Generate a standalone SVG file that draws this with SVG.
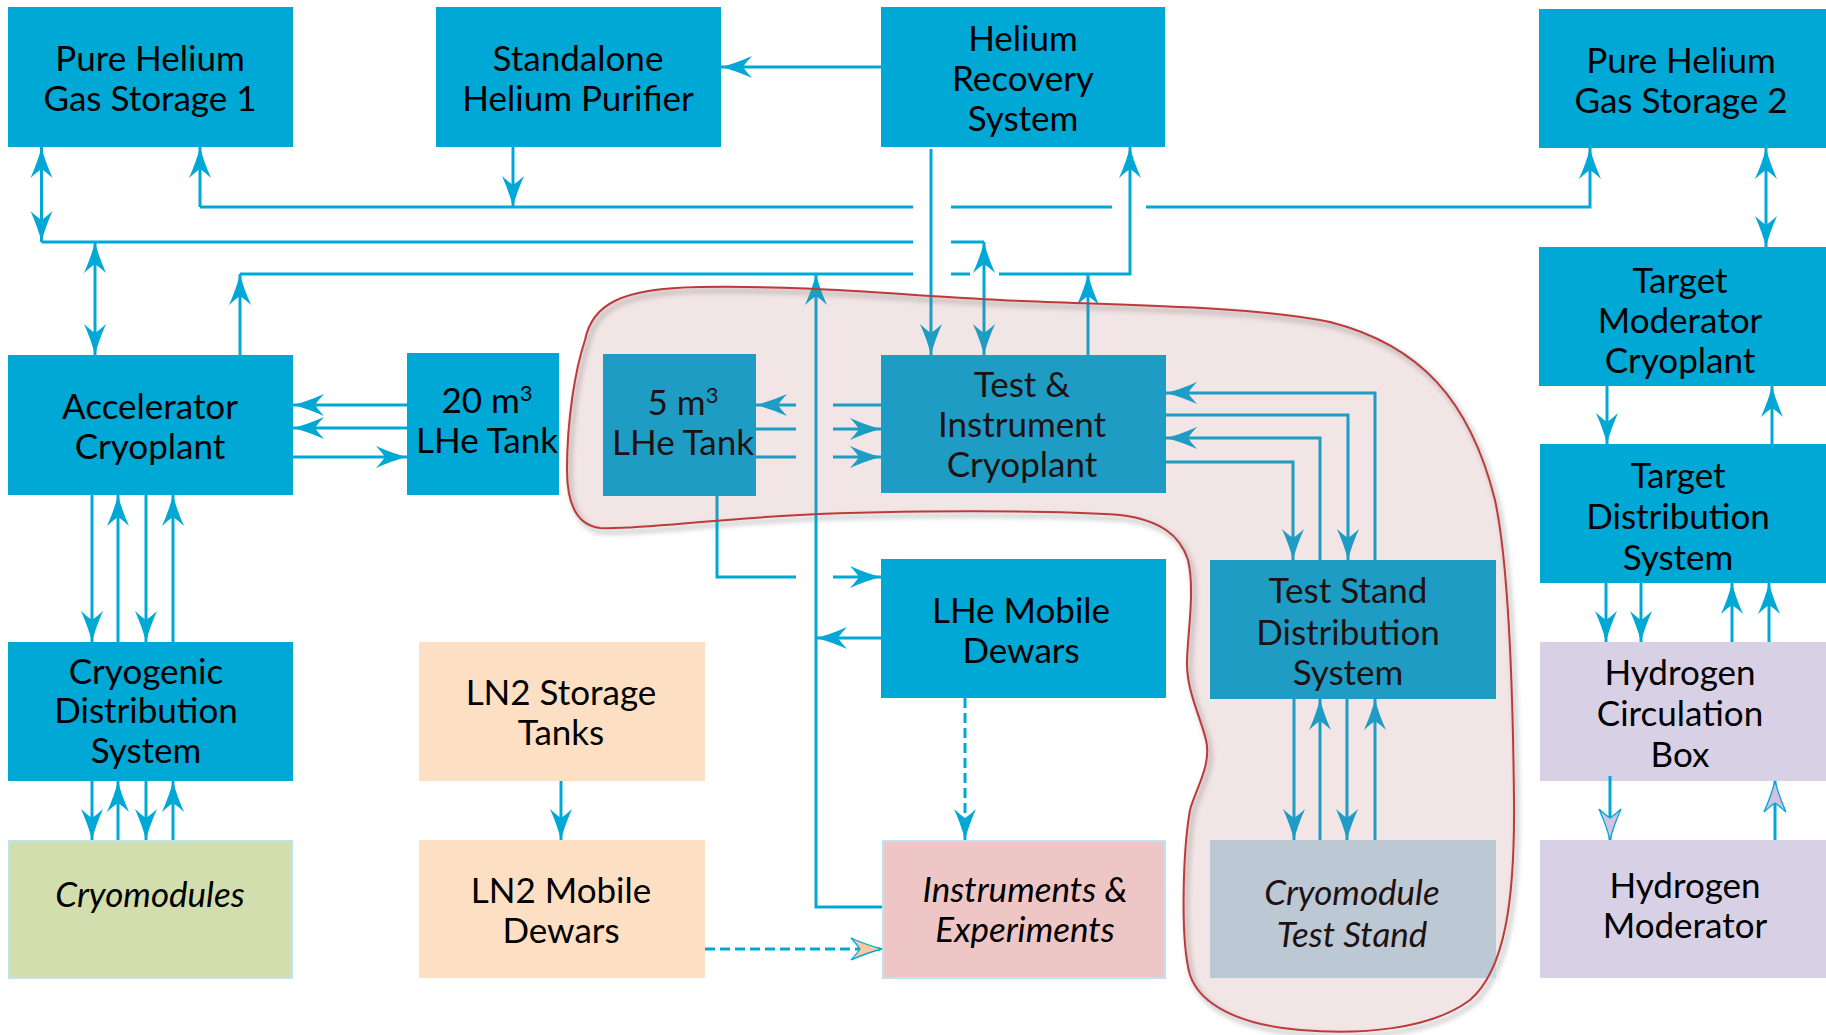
<svg xmlns="http://www.w3.org/2000/svg" width="1826" height="1035" viewBox="0 0 1826 1035">
<style>
.box{fill:#00A8D6}
.t{font-family:Lato,'Liberation Sans',sans-serif;font-size:35px;fill:#000;text-anchor:middle}
.i{font-style:italic}
.ln{fill:none;stroke:#00A8D6;stroke-width:3}
.ah{marker-end:url(#a)}
.dash{stroke-dasharray:10 5}
</style>
<defs>
<marker id="a" markerUnits="userSpaceOnUse" markerWidth="31" markerHeight="22" viewBox="0 0 31 22" refX="31" refY="11" orient="auto-start-reverse" overflow="visible">
<path d="M31,11 Q17,7.5 0,0 Q6,6.5 9,11 Q6,15.5 0,22 Q17,14.5 31,11 Z" fill="#00A8D6"/>
</marker>
<marker id="ap" markerUnits="userSpaceOnUse" markerWidth="31" markerHeight="22" viewBox="0 0 31 22" refX="31" refY="11" orient="auto" overflow="visible">
<path d="M31,11 Q17,7.5 0,0 Q6,6.5 9,11 Q6,15.5 0,22 Q17,14.5 31,11 Z" fill="#FBC9A0" stroke="#00A8D6" stroke-width="1.3" stroke-dasharray="none"/>
</marker>
<marker id="au" markerUnits="userSpaceOnUse" markerWidth="31" markerHeight="22" viewBox="0 0 31 22" refX="31" refY="11" orient="auto" overflow="visible">
<path d="M31,11 Q17,7.5 0,0 Q6,6.5 9,11 Q6,15.5 0,22 Q17,14.5 31,11 Z" fill="#CFC3E0" stroke="#00A8D6" stroke-width="1.3"/>
</marker>
<filter id="sh" x="-10%" y="-10%" width="120%" height="120%">
<feGaussianBlur stdDeviation="2.5"/>
</filter>
</defs>

<path id="regionShadow" transform="translate(3,4)" fill="none" stroke="#000" stroke-opacity="0.22" stroke-width="4" filter="url(#sh)" d="M567,470 C567,420 575,370 585,340 C592,305 620,288 700,287 C800,285 900,295 1000,300 C1100,305 1250,305 1330,322 C1420,345 1470,400 1495,500 C1510,570 1513,700 1514,800 C1515,900 1505,970 1470,1000 C1430,1030 1360,1035 1300,1030 C1240,1025 1200,1005 1190,975 C1180,940 1183,850 1190,810 C1195,790 1212,765 1206,740 C1200,715 1186,690 1187,660 C1188,630 1195,590 1188,560 C1180,535 1160,520 1120,515 C1050,510 900,510 800,515 C700,520 640,530 600,528 C575,525 567,500 567,470 Z"/>

<g id="pure-helium-1"><rect class="box" x="8" y="7" width="285" height="140"/><text class="t" x="150" y="71">Pure Helium</text><text class="t" x="150" y="111">Gas Storage 1</text></g>
<g id="purifier"><rect class="box" x="436" y="7" width="285" height="140"/><text class="t" x="578" y="71">Standalone</text><text class="t" x="578" y="111">Helium Purifier</text></g>
<g id="recovery"><rect class="box" x="881" y="7" width="284" height="140"/><text class="t" x="1023" y="51">Helium</text><text class="t" x="1023" y="91">Recovery</text><text class="t" x="1023" y="131">System</text></g>
<g id="pure-helium-2"><rect class="box" x="1539" y="9" width="287" height="139"/><text class="t" x="1681" y="73">Pure Helium</text><text class="t" x="1681" y="113">Gas Storage 2</text></g>
<g id="target-moderator-cryoplant"><rect class="box" x="1539" y="247" width="287" height="139"/><text class="t" x="1680" y="293">Target</text><text class="t" x="1680" y="333">Moderator</text><text class="t" x="1680" y="373">Cryoplant</text></g>
<g id="target-distribution"><rect class="box" x="1540" y="444" width="286" height="139"/><text class="t" x="1678" y="488">Target</text><text class="t" x="1678" y="529">Distribution</text><text class="t" x="1678" y="570">System</text></g>
<g id="hydrogen-circulation"><rect x="1540" y="642" width="286" height="139" fill="#D8D0E4"/><text class="t" x="1680" y="685">Hydrogen</text><text class="t" x="1680" y="726">Circulation</text><text class="t" x="1680" y="767">Box</text></g>
<g id="hydrogen-moderator"><rect x="1540" y="840" width="286" height="138" fill="#D8D0E4"/><text class="t" x="1685" y="898">Hydrogen</text><text class="t" x="1685" y="938">Moderator</text></g>
<g id="accelerator-cryoplant"><rect class="box" x="8" y="355" width="285" height="140"/><text class="t" x="150" y="419">Accelerator</text><text class="t" x="150" y="459">Cryoplant</text></g>
<g id="tank-20"><rect class="box" x="407" y="353" width="152" height="142"/><text class="t" x="487" y="413">20 m<tspan font-size="22" dy="-12">3</tspan></text><text class="t" x="487" y="453">LHe Tank</text></g>
<g id="tank-5"><rect class="box" x="603" y="354" width="153" height="142"/><text class="t" x="683" y="415">5 m<tspan font-size="22" dy="-12">3</tspan></text><text class="t" x="683" y="455">LHe Tank</text></g>
<g id="test-instrument-cryoplant"><rect class="box" x="881" y="355" width="285" height="138"/><text class="t" x="1022" y="397">Test &amp;</text><text class="t" x="1022" y="437">Instrument</text><text class="t" x="1022" y="477">Cryoplant</text></g>
<g id="lhe-mobile-dewars"><rect class="box" x="881" y="559" width="285" height="139"/><text class="t" x="1021" y="623">LHe Mobile</text><text class="t" x="1021" y="663">Dewars</text></g>
<g id="test-stand-distribution"><rect class="box" x="1210" y="560" width="286" height="139"/><text class="t" x="1348" y="603">Test Stand</text><text class="t" x="1348" y="645">Distribution</text><text class="t" x="1348" y="685">System</text></g>
<g id="cryogenic-distribution"><rect class="box" x="8" y="642" width="285" height="139"/><text class="t" x="146" y="684">Cryogenic</text><text class="t" x="146" y="723">Distribution</text><text class="t" x="146" y="763">System</text></g>
<g id="ln2-storage"><rect x="419" y="642" width="286" height="139" fill="#FDDFC4"/><text class="t" x="561" y="705">LN2 Storage</text><text class="t" x="561" y="745">Tanks</text></g>
<g id="cryomodules"><rect x="9" y="841" width="283" height="137" fill="#D2DEAE" stroke="#BFE4F1" stroke-width="2"/><text class="t i" x="150" y="907">Cryomodules</text></g>
<g id="ln2-mobile"><rect x="419" y="840" width="286" height="138" fill="#FDDFC4"/><text class="t" x="561" y="903">LN2 Mobile</text><text class="t" x="561" y="943">Dewars</text></g>
<g id="instruments-experiments"><rect x="883" y="841" width="282" height="137" fill="#EEC6C6" stroke="#BFE4F1" stroke-width="2"/><text class="t i" x="1025" y="902">Instruments &amp;</text><text class="t i" x="1025" y="942">Experiments</text></g>
<g id="cryomodule-test-stand"><rect x="1210" y="840" width="286" height="138" fill="#BFDDE8"/><text class="t i" x="1352" y="905">Cryomodule</text><text class="t i" x="1352" y="947">Test Stand</text></g>

<g id="connectors">
<path class="ln" d="M41.5,242 H913 M951,242 H984"/>
<path class="ln" d="M200,207 H913 M951,207 H1112"/>
<path class="ln" d="M240,274 H913 M951,274 H970"/>
<path class="ln" style="marker-start:url(#a);marker-end:url(#a)" d="M41.5,147 V242"/>
<path class="ln ah" d="M200,207 V147"/>
<path class="ln ah" d="M513,147 V207"/>
<path class="ln" style="marker-start:url(#a);marker-end:url(#a)" d="M95,242 V355"/>
<path class="ln ah" d="M240,355 V274"/>
<path class="ln ah" d="M881,67 H721"/>
<path class="ln ah" d="M1146,207 H1590 V148"/>
<path class="ln" style="marker-start:url(#a);marker-end:url(#a)" d="M984,242 V355"/>
<path class="ln ah" d="M931,149 V355"/>
<path class="ln ah" d="M999,274 H1130 V147"/>
<path class="ln ah" d="M1088,355 V274"/>
<path class="ln ah" d="M882,907 H816 V274"/>
<path class="ln" style="marker-start:url(#a);marker-end:url(#a)" d="M1766,148 V247"/>
<path class="ln ah" d="M1607,386 V444"/>
<path class="ln ah" d="M1772,444 V386"/>
<path class="ln ah" d="M1606,583 V642"/>
<path class="ln ah" d="M1641,583 V642"/>
<path class="ln ah" d="M1732,642 V583"/>
<path class="ln ah" d="M1769,642 V583"/>
<path class="ln" style="marker-end:url(#au)" d="M1610,776 V840"/>
<path class="ln" style="marker-end:url(#au)" d="M1775,840 V781"/>
<path class="ln ah" d="M407,405 H293"/>
<path class="ln ah" d="M407,428 H293"/>
<path class="ln ah" d="M293,457 H407"/>
<path class="ln ah" d="M92,495 V642"/>
<path class="ln ah" d="M118,642 V495"/>
<path class="ln ah" d="M146,495 V642"/>
<path class="ln ah" d="M173,642 V495"/>
<path class="ln ah" d="M92,781 V840"/>
<path class="ln ah" d="M118,840 V781"/>
<path class="ln ah" d="M146,781 V840"/>
<path class="ln ah" d="M173,840 V781"/>
<path class="ln ah" d="M561,781 V840"/>
<path class="ln" d="M881,405 H833"/>
<path class="ln ah" d="M796,405 H756"/>
<path class="ln" d="M756,429 H796"/>
<path class="ln ah" d="M833,429 H881"/>
<path class="ln" d="M756,457 H796"/>
<path class="ln ah" d="M833,457 H881"/>
<path class="ln" d="M717,496 V577 H796"/>
<path class="ln ah" d="M833,577 H881"/>
<path class="ln ah" d="M881,638 H816"/>
<path class="ln ah dash" d="M965,698 V840"/>
<path class="ln dash" style="marker-end:url(#ap)" d="M705,949 H882"/>
<path class="ln ah" d="M1375,560 V393 H1166"/>
<path class="ln ah" d="M1166,415 H1348 V560"/>
<path class="ln ah" d="M1320,560 V438 H1166"/>
<path class="ln ah" d="M1166,462 H1293 V560"/>
<path class="ln ah" d="M1294,699 V840"/>
<path class="ln ah" d="M1320,840 V699"/>
<path class="ln ah" d="M1347,699 V840"/>
<path class="ln ah" d="M1375,840 V699"/>
</g>

<path id="test-region" fill="rgb(177,100,108)" fill-opacity="0.17" stroke="#BE3A3A" stroke-width="2" d="M567,470 C567,420 575,370 585,340 C592,305 620,288 700,287 C800,285 900,295 1000,300 C1100,305 1250,305 1330,322 C1420,345 1470,400 1495,500 C1510,570 1513,700 1514,800 C1515,900 1505,970 1470,1000 C1430,1030 1360,1035 1300,1030 C1240,1025 1200,1005 1190,975 C1180,940 1183,850 1190,810 C1195,790 1212,765 1206,740 C1200,715 1186,690 1187,660 C1188,630 1195,590 1188,560 C1180,535 1160,520 1120,515 C1050,510 900,510 800,515 C700,520 640,530 600,528 C575,525 567,500 567,470 Z"/>
</svg>
